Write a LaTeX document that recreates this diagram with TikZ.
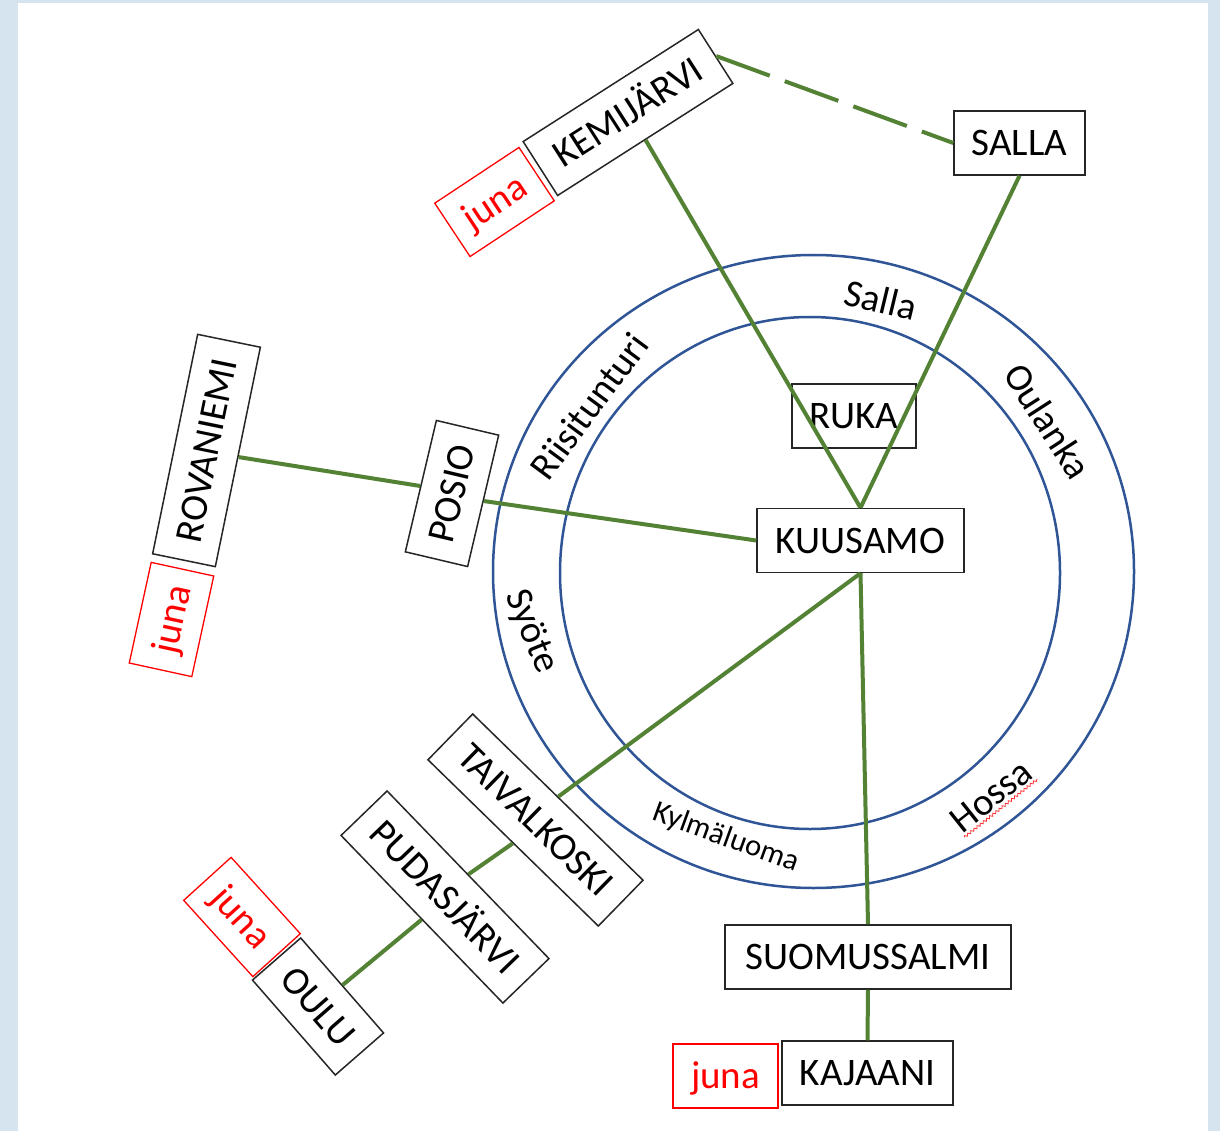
\documentclass[tikz,border=0pt]{standalone}
\usepackage{fontspec}
\setmainfont{Carlito}
\usetikzlibrary{decorations.pathmorphing}
\definecolor{bgblue}{RGB}{214,228,240}
\definecolor{lgreen}{RGB}{84,130,53}
\definecolor{rblue}{RGB}{47,85,151}
\begin{document}
\begin{tikzpicture}[x=1pt,y=-1pt,
  box/.style={draw=black!85, line width=1.5pt, inner sep=0pt, minimum height=64pt,
    text height=25pt, text depth=0pt, font=\fontsize{39}{47}\selectfont},
  redbox/.style={box, draw=red, text=red, line width=1.3pt},
  link/.style={draw=lgreen, line width=4pt},
  ring/.style={draw=rblue, line width=2.5pt},
  lab/.style={font=\fontsize{38.5}{44}\selectfont, inner sep=0pt},
  smalllab/.style={font=\fontsize{30.5}{35}\selectfont, inner sep=0pt}]
\fill[bgblue] (0,0) rectangle (1220,1131);
\fill[white] (18,3) rectangle (1208,1131);
\useasboundingbox (0,0) rectangle (1220,1131);

% rings
\draw[ring] (813.5,571.5) ellipse [x radius=320.5, y radius=316.5];
\draw[ring] (810,573) ellipse [x radius=250, y radius=256];

% nodes
\node[box, minimum width=207pt] (kuusamo) at (860.5,540.5) {KUUSAMO};
\node[box, minimum width=124pt] (ruka) at (854,416) {RUKA};
\node[box, minimum width=131pt] (salla) at (1019.5,143) {SALLA};
\node[box, minimum width=286pt] (suomus) at (868,957) {SUOMUSSALMI};
\node[box, minimum width=171pt] (kajaani) at (867.5,1073) {KAJAANI};
\node[redbox, minimum width=105pt] (junakaj) at (725.5,1076) {juna};
\node[box, minimum width=208pt, rotate=32.6] (kemi) at (628,112.5) {KEMIJÄRVI};
\node[redbox, minimum width=101pt, rotate=33.5] (junakemi) at (494.5,202) {juna};
\node[box, minimum width=224pt, rotate=78.4] (rova) at (206.5,450.5) {ROVANIEMI};
\node[redbox, minimum width=103pt, rotate=77.7] (junarova) at (171.5,619.5) {juna};
\node[box, minimum width=135pt, rotate=76.7] (posio) at (452,493.5) {POSIO};
\node[box, minimum width=238pt, rotate=-44.3] (taival) at (535.5,820) {TAIVALKOSKI};
\node[box, minimum width=233pt, rotate=-46] (pudas) at (445,897) {PUDASJÄRVI};
\node[box, minimum width=126pt, rotate=-48.9] (oulu) at (318,1006.5) {OULU};
\node[redbox, minimum width=103pt, rotate=-47.8] (junaoulu) at (242,917) {juna};

% connectors
\draw[link] (kemi.south) -- (kuusamo.north);
\draw[link] (salla.south) -- (kuusamo.north);
\draw[link, dash pattern=on 57pt off 16pt] (kemi.east) -- (salla.west);
\draw[link] (rova.south) -- (posio.north);
\draw[link] (posio.south) -- (kuusamo.west);
\draw[link] (kuusamo.south) -- (taival.north);
\draw[link] (taival.south) -- (pudas.north);
\draw[link] (pudas.south) -- (oulu.north);
\draw[link] (kuusamo.south) -- (suomus.north);
\draw[link] (suomus.south) -- (kajaani.north);

% ring labels
\node[lab, rotate=-13.6] (lsalla) at (881,300) {Salla};
\node[lab, rotate=-57.2] (loulanka) at (1048,421) {Oulanka};
\node[lab, rotate=53.5] (lriisi) at (589,406) {Riisitunturi};
\node[lab, rotate=-68] (lsyote) at (531,632) {Syöte};
\node[smalllab, rotate=-20] (lkylma) at (726,838) {Kylmäluoma};
\node[lab, rotate=38.5, inner ysep=3pt] (lhossa) at (991,796) {Hossa};
\draw[red!80, line width=0.8pt, decorate, decoration={snake, amplitude=1.2pt, segment length=4pt}]
  (lhossa.south west) -- (lhossa.south east);
\end{tikzpicture}
\end{document}
